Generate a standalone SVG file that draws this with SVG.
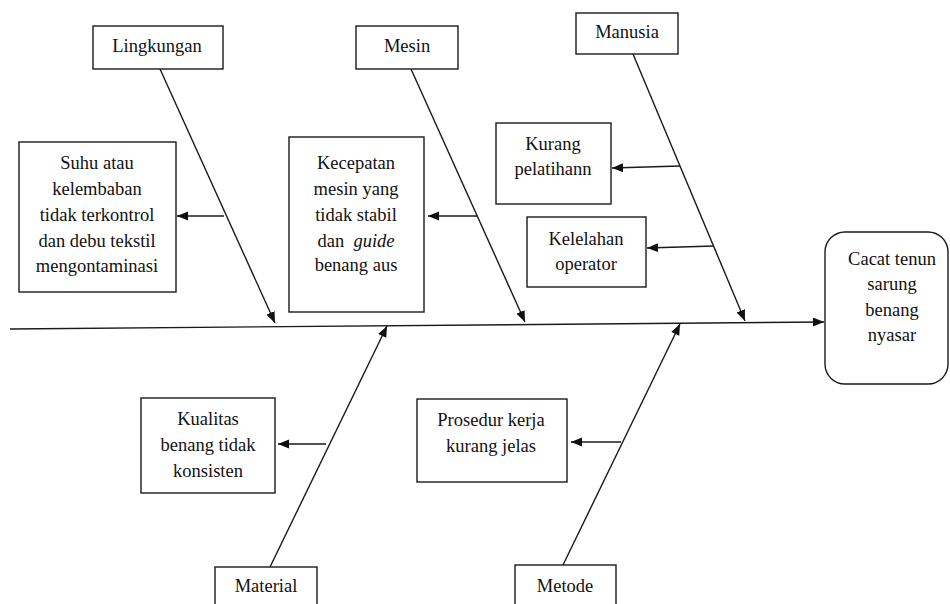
<svg xmlns="http://www.w3.org/2000/svg" width="950" height="604" viewBox="0 0 950 604">
<defs>
<style>
.box{fill:#fff;stroke:#1a1a1a;stroke-width:1.4}
.t{font-size:18.5px;fill:#111;text-anchor:middle}
.ln{stroke:#1a1a1a;stroke-width:1.4;fill:none}
.arr{marker-end:url(#ah)}
</style>
<marker id="ah" markerUnits="userSpaceOnUse" markerWidth="12" markerHeight="10" refX="11" refY="4.5" orient="auto">
<path d="M0,0 L11,4.5 L0,9 z" fill="#111"/>
</marker>
</defs>
<rect width="950" height="604" fill="#fff"/>
<g id="connectors">
<line class="ln arr" x1="10" y1="329" x2="824" y2="322"/>
<line class="ln arr" x1="160" y1="69" x2="275" y2="323"/>
<line class="ln arr" x1="411" y1="69" x2="525" y2="322"/>
<line class="ln arr" x1="633" y1="54" x2="745" y2="321"/>
<line class="ln arr" x1="270" y1="567" x2="387" y2="326"/>
<line class="ln arr" x1="563" y1="565" x2="680" y2="324"/>
<line class="ln arr" x1="224" y1="216" x2="177" y2="216"/>
<line class="ln arr" x1="477" y1="216" x2="428" y2="216"/>
<line class="ln arr" x1="680" y1="166" x2="612" y2="168"/>
<line class="ln arr" x1="714" y1="246" x2="647" y2="248"/>
<line class="ln arr" x1="326" y1="444" x2="278" y2="444"/>
<line class="ln arr" x1="621" y1="442" x2="571" y2="442"/>
</g>
<g font-family="'Liberation Serif', 'DejaVu Serif', serif">
<g id="lingkungan">
<rect class="box" x="93" y="26" width="130" height="43"/>
<text class="t" x="157" y="52">Lingkungan</text>
</g>
<g id="mesin">
<rect class="box" x="356" y="26" width="102" height="43"/>
<text class="t" x="407" y="52">Mesin</text>
</g>
<g id="manusia">
<rect class="box" x="576" y="13" width="102" height="41"/>
<text class="t" x="627" y="38">Manusia</text>
</g>
<g id="suhu">
<rect class="box" x="19" y="142" width="157" height="150"/>
<text class="t" x="97" y="169">Suhu atau</text>
<text class="t" x="97" y="195">kelembaban</text>
<text class="t" x="97" y="221">tidak terkontrol</text>
<text class="t" x="97" y="247">dan debu tekstil</text>
<text class="t" x="97" y="272">mengontaminasi</text>
</g>
<g id="kecepatan">
<rect class="box" x="289" y="137" width="135" height="175"/>
<text class="t" x="356" y="169">Kecepatan</text>
<text class="t" x="356" y="195">mesin yang</text>
<text class="t" x="356" y="221">tidak stabil</text>
<text class="t" x="356" y="247" xml:space="preserve">dan  <tspan font-style="italic">guide</tspan></text>
<text class="t" x="356" y="271">benang aus</text>
</g>
<g id="kurang-pelatihan">
<rect class="box" x="496" y="123" width="115" height="81"/>
<text class="t" x="553" y="150">Kurang</text>
<text class="t" x="553" y="175">pelatihann</text>
</g>
<g id="kelelahan">
<rect class="box" x="527" y="217" width="119" height="70"/>
<text class="t" x="586" y="245">Kelelahan</text>
<text class="t" x="586" y="270">operator</text>
</g>
<g id="cacat">
<rect class="box" x="825" y="232" width="123" height="152" rx="20" ry="20"/>
<text class="t" x="892" y="265">Cacat tenun</text>
<text class="t" x="892" y="290">sarung</text>
<text class="t" x="892" y="316">benang</text>
<text class="t" x="892" y="341">nyasar</text>
</g>
<g id="kualitas">
<rect class="box" x="141" y="398" width="134" height="95"/>
<text class="t" x="208" y="425">Kualitas</text>
<text class="t" x="208" y="451">benang tidak</text>
<text class="t" x="208" y="477">konsisten</text>
</g>
<g id="prosedur">
<rect class="box" x="417" y="399" width="150" height="83"/>
<text class="t" x="491" y="426">Prosedur kerja</text>
<text class="t" x="491" y="452">kurang jelas</text>
</g>
<g id="material">
<rect class="box" x="215" y="567" width="102" height="45"/>
<text class="t" x="266" y="592">Material</text>
</g>
<g id="metode">
<rect class="box" x="515" y="565" width="101" height="45"/>
<text class="t" x="565" y="592">Metode</text>
</g>
</g>
</svg>
